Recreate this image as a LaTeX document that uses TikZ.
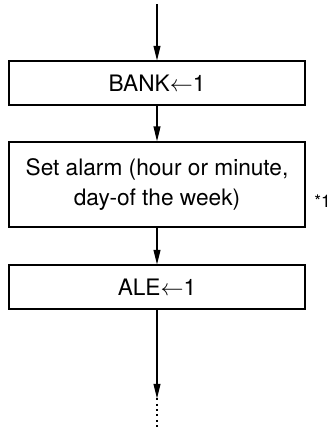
\documentclass[tikz,border=0pt]{standalone}
\usepackage{fontspec}
\setmainfont{TeX Gyre Heros}
\usetikzlibrary{positioning, arrows.meta}
\begin{document}
\begin{tikzpicture}[x=0.75pt, y=0.75pt, font=\fontsize{17}{22.5}\selectfont,
			blk/.style={draw, line width=1.5pt, minimum width=222pt, align=center, inner sep=0pt},
			arr/.style={line width=0.8pt, -{Triangle[length=11pt, width=5.2pt]}}]
			\useasboundingbox (0,0) rectangle (329,428);
			% Ablauf: BANK, Alarm, ALE
			\node[blk, minimum height=33pt] (bank) at (157,344.5) {BANK$\leftarrow$1};
			\node[blk, minimum height=64pt, below=26pt of bank] (alarm) {Set alarm (hour or minute,\\day-of the week)};
			\node[blk, minimum height=33pt, below=27pt of alarm] (ale) {ALE$\leftarrow$1};
			\node[anchor=west, font=\fontsize{13}{15}\selectfont, inner sep=0pt] (note) at (314,227) {*1};
			\coordinate[above=42pt of bank] (start);
			\coordinate[below=66pt of ale] (tip);
			\coordinate[below=25pt of tip] (stop);
			\draw[arr] (start) -- (bank);
			\draw[arr] (bank) -- (alarm);
			\draw[arr] (alarm) -- (ale);
			\draw[arr] (ale) -- (tip);
			\draw[line width=0.8pt, dash pattern=on 1.5pt off 2.5pt] (tip) -- (stop);
		\end{tikzpicture}
\end{document}
